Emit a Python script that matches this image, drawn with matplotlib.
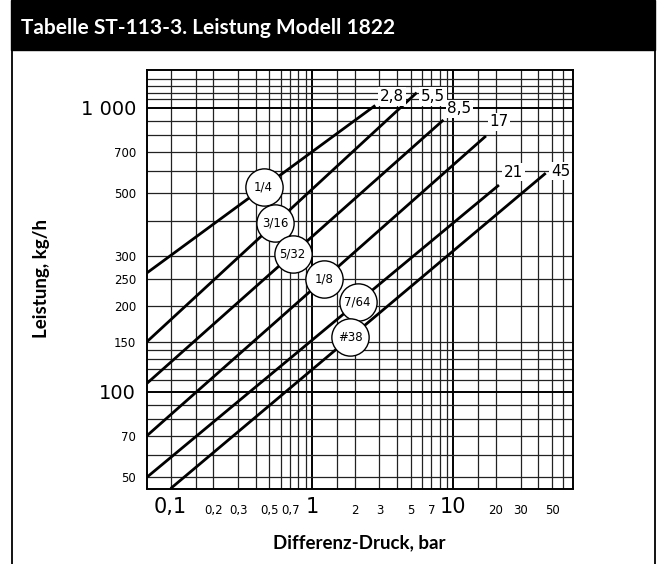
import numpy as np
import matplotlib
matplotlib.use("Agg")
import matplotlib.pyplot as plt
from matplotlib.patches import Rectangle
from matplotlib.lines import Line2D

# orifice sizes and the max differential pressure printed at the end of each line
sizes = ["1/4", "3/16", "5/32", "1/8", "7/64", "#38"]
end_labels = ["2,8", "5,5", "8,5", "17", "21", "45"]
end_dp = [2.8, 5.5, 8.5, 17, 21, 45]
end_q = [1018, 1129, 905, 795, 534, 588]
start_dp = [0.068, 0.068, 0.068, 0.068, 0.068, 0.1]
start_q = [262, 150, 107, 70, 50, 45.6]
circle_dp = [0.454, 0.549, 0.728, 1.21, 2.10, 1.87]

x_major = [0.1, 1, 10]
x_major_labels = ["0,1", "1", "10"]
x_minor = [0.2, 0.3, 0.5, 0.7, 2, 3, 5, 7, 20, 30, 50]
x_minor_labels = ["0,2", "0,3", "0,5", "0,7", "2", "3", "5", "7", "20", "30", "50"]
y_major = [100, 1000]
y_major_labels = ["100", "1 000"]
y_minor = [50, 70, 150, 200, 250, 300, 500, 700]
y_minor_labels = ["50", "70", "150", "200", "250", "300", "500", "700"]

x_grid = [0.1, 0.15, 0.2, 0.3, 0.4, 0.5, 0.6, 0.7, 0.8, 0.9,
          1, 1.5, 2, 3, 4, 5, 6, 7, 8, 9,
          10, 15, 20, 30, 40, 50, 60]
y_grid = [50, 60, 70, 80, 90, 100, 110, 120, 130, 140, 150, 200, 250,
          300, 400, 500, 600, 700, 800, 900, 1000, 1070, 1125, 1190, 1265]

# label offsets from line ends, in pixels
label_off = [(17, 9), (16, -4), (16, 11), (13, 14), (15, 13), (15, 2)]

NARROW = ["Liberation Sans Narrow", "DejaVu Sans"]
BOLD = ["Lato", "DejaVu Sans"]
W, H = 664, 564

fig = plt.figure(figsize=(W / 100, H / 100), dpi=100)

# title band and frame
fig.patches.append(Rectangle((11 / W, 1 - 50 / H), (655 - 11) / W, 50 / H,
                             transform=fig.transFigure, color="black", zorder=0))
for xf in (11.5, 654.5):
    fig.add_artist(Line2D([xf / W, xf / W], [0, 1 - 50 / H], color="black", lw=1.3))
fig.text(21 / W, 1 - 28 / H, "Tabelle ST-113-3. Leistung Modell 1822", color="white",
         fontsize=15, fontweight="bold", family=BOLD, va="center")

ax = fig.add_axes([147 / W, (H - 488.5) / H, (572.5 - 147) / W, (488.5 - 70) / H])
ax.set_xscale("log")
ax.set_yscale("log")
ax.set_xlim(0.068, 69.6)
ax.set_ylim(45.6, 1357)

for xv in x_grid:
    major = xv in (1, 10)
    ax.axvline(xv, color="black" if major else "#222222", lw=1.4 if major else 0.9, zorder=1)
for yv in y_grid:
    major = yv in (100, 1000)
    ax.axhline(yv, color="black" if major else "#222222", lw=1.4 if major else 0.9, zorder=1)

for i in range(len(sizes)):
    xs = [start_dp[i], end_dp[i]]
    ys = [start_q[i], end_q[i]]
    ax.plot(xs, ys, color="black", lw=2.0, solid_capstyle="butt", zorder=2)

    # circle sits on the line (log-log interpolation)
    t = (np.log10(circle_dp[i]) - np.log10(xs[0])) / (np.log10(xs[1]) - np.log10(xs[0]))
    cq = 10 ** (np.log10(ys[0]) + t * (np.log10(ys[1]) - np.log10(ys[0])))
    ax.scatter([circle_dp[i]], [cq], s=720, facecolor="white", edgecolor="black",
               lw=1.0, zorder=5)
    ax.text(circle_dp[i], cq, sizes[i], ha="center", va="center", fontsize=8.5,
            family=NARROW, zorder=6)

    dx, dy = label_off[i]
    ax.annotate(end_labels[i], (end_dp[i], end_q[i]), xytext=(dx, dy),
                textcoords="offset pixels", ha="center", va="center", fontsize=11,
                bbox=dict(boxstyle="square,pad=0.12", fc="white", ec="none"), zorder=4)

ax.set_xticks(x_major)
ax.set_xticklabels(x_major_labels, fontsize=15, family=NARROW)
ax.set_xticks(x_minor, minor=True)
ax.set_xticklabels(x_minor_labels, minor=True, fontsize=8.5, family=NARROW)
ax.set_yticks(y_major)
ax.set_yticklabels(y_major_labels, fontsize=14, family=NARROW)
ax.set_yticks(y_minor, minor=True)
ax.set_yticklabels(y_minor_labels, minor=True, fontsize=8.5, family=NARROW)
ax.tick_params(which="both", length=0)
ax.tick_params(axis="x", which="major", pad=6)
ax.tick_params(axis="x", which="minor", pad=11)
ax.tick_params(axis="y", which="both", pad=8)
for sp in ax.spines.values():
    sp.set_linewidth(1.4)
    sp.set_zorder(7)

fig.text(359 / W, 1 - 543 / H, "Differenz-Druck, bar", ha="center", va="center",
         fontsize=13.5, fontweight="bold", family=BOLD)
fig.text(42 / W, 1 - 278 / H, "Leistung, kg/h", ha="center", va="center",
         rotation=90, fontsize=13.5, fontweight="bold", family=BOLD)

fig.savefig("out.png", dpi=100)
